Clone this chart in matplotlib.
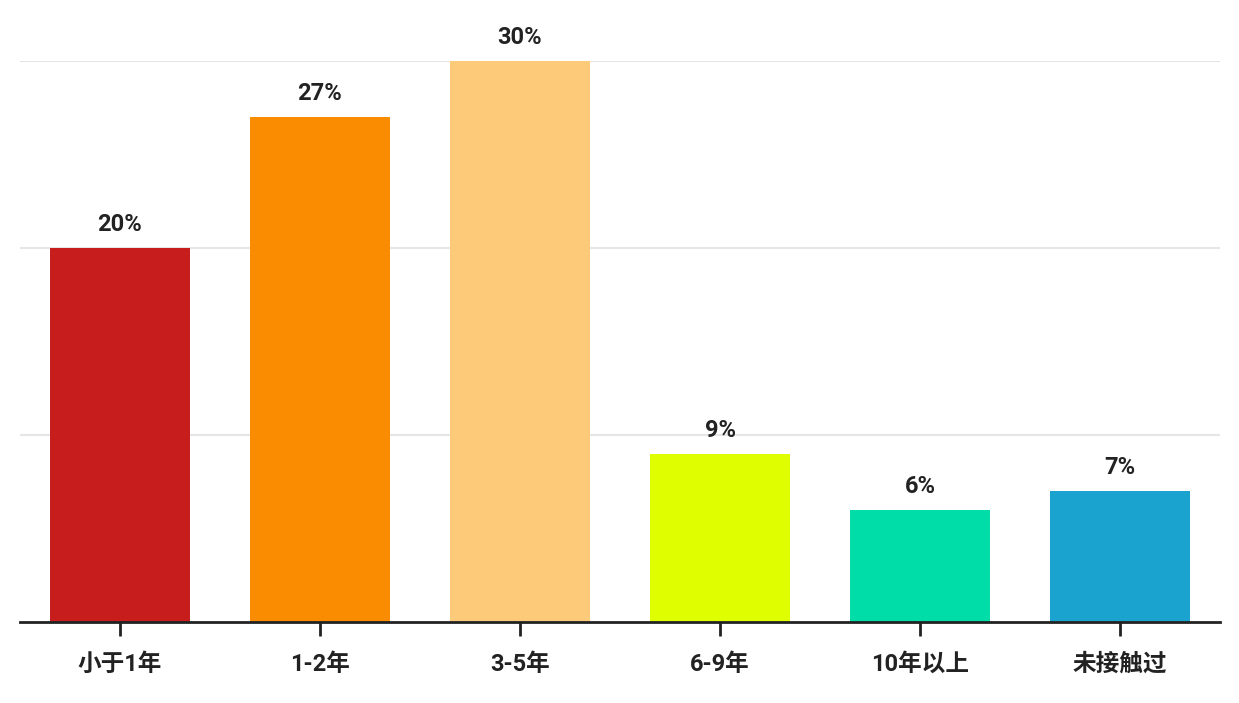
import matplotlib
matplotlib.use("Agg")
import matplotlib.pyplot as plt

categories = ["小于1年", "1-2年", "3-5年", "6-9年", "10年以上", "未接触过"]
values = [20, 27, 30, 9, 6, 7]
labels = ["20%", "27%", "30%", "9%", "6%", "7%"]
colors = ["#C71D1D", "#F98C00", "#FDCA7A", "#DFFF00", "#00DDA8", "#1AA3CF"]

plt.rcParams['font.family'] = ['Roboto', 'Noto Sans CJK SC', 'DejaVu Sans']

fig = plt.figure(figsize=(12.39, 7.03), dpi=100)
ax = fig.add_axes([20/1239, 81/703, 1200/1239, 561/703])
x = list(range(len(categories)))
ax.bar(x, values, width=0.7, color=colors, zorder=3)
ax.set_xlim(-0.5, len(categories) - 0.5)
ax.set_ylim(0, 30)
ax.set_yticks([10, 20, 30])
ax.yaxis.grid(True, color="#e6e6e6", linewidth=1.5, zorder=0)
ax.tick_params(axis='y', length=0, labelleft=False)
ax.set_xticks(x)
ax.set_xticklabels(categories, fontsize=17, fontweight='bold', color="#222222",
                   family=['Roboto', 'Noto Sans CJK SC'])
ax.tick_params(axis='x', length=10, width=2, color="#222222", pad=12)
for s in ['top', 'right', 'left']:
    ax.spines[s].set_visible(False)
ax.spines['bottom'].set_linewidth(2)
ax.spines['bottom'].set_color("#222222")
ax.spines['bottom'].set_zorder(4)
for xi, v, lab in zip(x, values, labels):
    ax.annotate(lab, (xi, v), xytext=(0, 12), textcoords='offset pixels',
                ha='center', va='bottom', fontsize=17, fontweight='bold',
                color="#222222", annotation_clip=False)
fig.savefig("out.png", dpi=100)
